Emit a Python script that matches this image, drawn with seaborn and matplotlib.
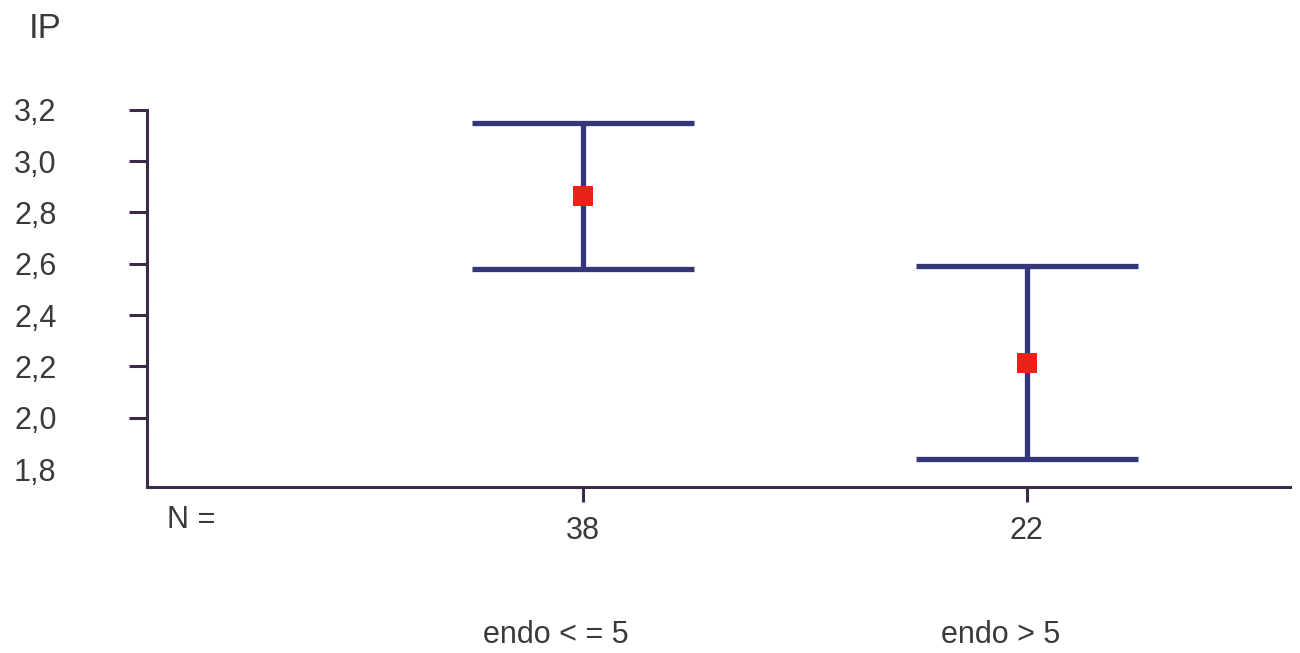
import matplotlib.pyplot as plt
import matplotlib.transforms as mtransforms
import pandas as pd
import seaborn as sns

groups = ['endo < = 5', 'endo > 5']
counts = ['38', '22']
means = [2.865, 2.215]
lower = [2.58, 1.84]
upper = [3.15, 2.59]
yticks = [1.8, 2.0, 2.2, 2.4, 2.6, 2.8, 3.0, 3.2]

axis_col = '#3b2a48'
bar_col = '#35357a'
dot_col = '#e8241a'
text_col = '#3a3a3a'

sns.set_style('ticks')
plt.rcParams['font.family'] = ['Liberation Sans', 'DejaVu Sans']

df = pd.DataFrame({'pos': [0, 1], 'mean': means, 'lo': lower, 'hi': upper})

fig = plt.figure(figsize=(13, 6.53), dpi=100)
ax = fig.add_axes([0.113, 0.254, 0.879, 0.578])

ax.errorbar(df.pos, df['mean'], yerr=[df['mean'] - df.lo, df.hi - df['mean']],
            fmt='none', ecolor=bar_col, elinewidth=3.8, capsize=80, capthick=3.8, zorder=2)
sns.scatterplot(data=df, x='pos', y='mean', marker='s', s=210, color=dot_col,
                edgecolor='none', ax=ax, zorder=3, legend=False)

ax.set_xlim(-0.982, 1.592)
ax.set_ylim(1.73, 3.2)
ax.set_yticks(yticks)
ax.set_yticklabels([f'{v:.1f}'.replace('.', ',') for v in yticks])
ax.set_xticks(df.pos)
ax.set_xticklabels(counts)
ax.set_xlabel('')
ax.set_ylabel('')
sns.despine(ax=ax)
for s in ['left', 'bottom']:
    ax.spines[s].set_color(axis_col)
    ax.spines[s].set_linewidth(2.2)
ax.tick_params(axis='y', length=13, width=2.2, color=axis_col, pad=52,
               labelsize=22, labelcolor=text_col)
ax.tick_params(axis='x', length=11, width=2.2, color=axis_col, pad=10,
               labelsize=22, labelcolor=text_col)
ax.yaxis.get_major_ticks()[0].tick1line.set_visible(False)

# group names sit a bit left of the tick positions in the original
trans = mtransforms.blended_transform_factory(ax.transData, fig.transFigure)
for p, g in zip(df.pos, groups):
    ax.text(p - 0.06, 1 - 635 / 653, g, transform=trans, ha='center', va='center',
            fontsize=22, color=text_col)

fig.text(167 / 1300, 1 - 520 / 653, 'N =', ha='left', va='center', fontsize=22, color=text_col)
fig.text(29 / 1300, 1 - 28 / 653, 'IP', ha='left', va='center', fontsize=25, color=text_col)

fig.savefig('out.png', dpi=100)
